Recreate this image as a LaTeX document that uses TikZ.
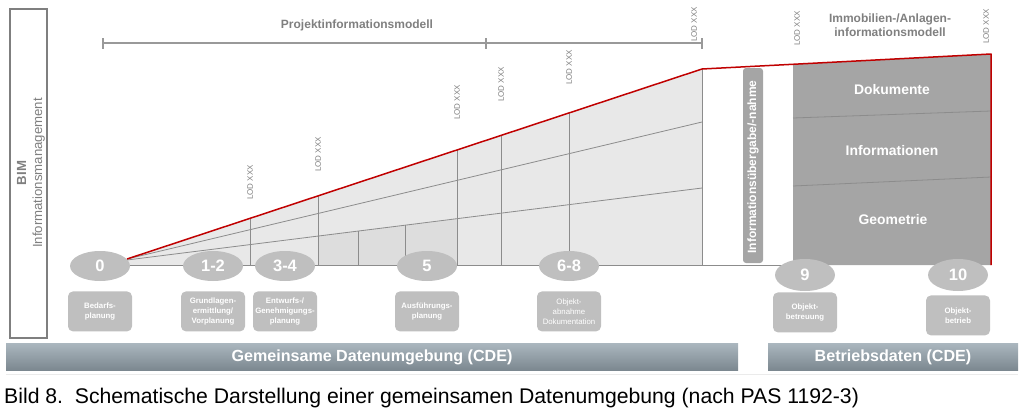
\documentclass[tikz,border=0pt]{standalone}
\usepackage{fontspec}
\setmainfont{Liberation Sans}
\usetikzlibrary{shapes.geometric,positioning}
\definecolor{bimred}{HTML}{C00000}
\definecolor{textgray}{HTML}{7F7F7F}
\definecolor{linegray}{HTML}{8C8C8C}
\definecolor{wedgegray}{HTML}{E8E8E8}
\definecolor{cellgray}{HTML}{DDDDDD}
\definecolor{phasegray}{HTML}{BFBFBF}
\definecolor{blockgray}{HTML}{A5A5A5}
\definecolor{cdetop}{HTML}{AAB6BE}
\definecolor{cdebottom}{HTML}{7B878F}

\tikzset{%
  % Specifications for style of nodes:
        phase/.style = {ellipse, fill=phasegray, minimum width=60pt,
                        minimum height=30pt, inner sep=0pt, text=white,
                        font=\bfseries\fontsize{16.5}{18}\selectfont},
         task/.style = {rectangle, rounded corners=5pt, fill=phasegray,
                        minimum width=64pt, minimum height=40pt, inner sep=1pt,
                        text=white, align=center,
                        font=\bfseries\fontsize{7.8}{10}\selectfont},
          lod/.style = {rotate=90, anchor=west, inner sep=0pt, text=textgray,
                        font=\fontsize{8}{9}\selectfont},
          cde/.style = {rectangle, top color=cdetop, bottom color=cdebottom,
                        minimum height=27pt, text=white,
                        font=\bfseries\fontsize{16.1}{18}\selectfont},
        layer/.style = {text=white, font=\bfseries\fontsize{13.9}{16}\selectfont},
        model/.style = {text=textgray, align=center,
                        font=\bfseries\fontsize{12}{14}\selectfont},
         grid/.style = {draw=linegray, line width=0.8pt},
}

\begin{document}
\begin{tikzpicture}[x=1pt, y=-1pt]
\useasboundingbox (0,0) rectangle (1024,415);

% BIM frame
\draw[textgray, line width=1.2pt] (10,9) rectangle (47,338);
\node (BIM) [rotate=90, text=textgray, align=center,
  font=\fontsize{13.2}{16}\selectfont] at (31,173)
  {\textbf{BIM}\\Informationsmanagement};

% project model bracket
\draw[draw=textgray!80, line width=1.2pt] (103,43) -- (702,43);
\foreach \x in {103,486,702} \draw[draw=textgray!80, line width=1.2pt] (\x,38) -- (\x,49);
\node (PIM) [model] at (357,25) {Projektinformationsmodell};
\node (AIM) [model] at (890,25) {Immobilien-/Anlagen-\\informationsmodell};

% wedge
\coordinate (apex) at (127,259);
\coordinate (top) at (702,69);
\coordinate (foot) at (702,265);
\fill[wedgegray] (apex) -- (top) -- (foot) -- (127,265) -- cycle;
\fill[cellgray] (318,236.1) -- (457,218.7) -- (457,265) -- (318,265) -- cycle;
\begin{scope}
  \clip (apex) -- (top) -- (foot) -- (127,265) -- cycle;
  \foreach \x in {250,318,457,501,569} \draw[grid] (\x,0) -- (\x,265);
\end{scope}
\draw[grid] (358,231.1) -- (358,265);
\draw[grid] (405,225.2) -- (405,265);
\draw[grid] (apex) -- (702,122);
\draw[grid] (127,260) -- (702,188);
\draw[grid] (127,265) -- (foot) -- (top);
\draw[grid] (foot) -- (793,265);

% operation block
\fill[blockgray] (793,64.3) -- (991,54) -- (991,265) -- (793,265) -- cycle;
\draw[draw=black!45, line width=0.8pt] (793,118) -- (991,111);
\draw[draw=black!45, line width=0.8pt] (793,186) -- (991,177);
\draw[bimred, line width=1.5pt, line join=round] (apex) -- (top) -- (991,54) -- (991,265);
\node (DOK) [layer] at (892,90) {Dokumente};
\node (INF) [layer] at (892,151) {Informationen};
\node (GEO) [layer] at (893,220) {Geometrie};

% handover
\fill[blockgray, rounded corners=3pt] (743,68) rectangle (763,263);
\node (UEB) [rotate=90, text=white, font=\bfseries\fontsize{12}{13}\selectfont]
  at (753,167) {Informationsübergabe/-nahme};

% LOD labels
\node (L1) [lod] at (250,200) {LOD XXX};
\node (L2) [lod] at (318,172) {LOD XXX};
\node (L3) [lod] at (457,120) {LOD XXX};
\node (L4) [lod] at (501,102) {LOD XXX};
\node (L5) [lod] at (569,85) {LOD XXX};
\node (L6) [lod] at (694,42) {LOD XXX};
\node (L7) [lod] at (797,46) {LOD XXX};
\node (L8) [lod] at (986,44) {LOD XXX};

% phases
\node (P0)  [phase] at (100,266) {0};
\node (P12) [phase] at (213,266) {1-2};
\node (P34) [phase] at (285,266) {3-4};
\node (P5)  [phase] at (427,266) {5};
\node (P68) [phase] at (569,266) {6-8};
\node (P9)  [phase, minimum height=32pt] at (805,275) {9};
\node (P10) [phase, minimum height=32pt] at (958,275) {10};

\node (T0)  [task, below=10pt of P0]  {Bedarfs-\\planung};
\node (T12) [task, below=10pt of P12] {Grundlagen-\\ermittlung/\\Vorplanung};
\node (T34) [task, below=10pt of P34] {Entwurfs-/\\Genehmigungs-\\planung};
\node (T5)  [task, below=10pt of P5]  {Ausführungs-\\planung};
\node (T68) [task, below=10pt of P68, font=\fontsize{7.8}{10}\selectfont]
  {Objekt-\\abnahme\\Dokumentation};
\node (T9)  [task, below=1pt of P9]   {Objekt-\\betreuung};
\node (T10) [task, below=4pt of P10]  {Objekt-\\betrieb};

% data environments
\node (CDE) [cde, minimum width=732pt] at (372,357) {Gemeinsame Datenumgebung (CDE)};
\node (OPS) [cde, minimum width=250pt] at (893,357) {Betriebsdaten (CDE)};
\draw[black!8, line width=0.8pt] (6,374) -- (1018,374);

% caption
\node (CAP) [anchor=west, inner sep=0pt, font=\fontsize{21.2}{24}\selectfont]
  at (4,398) {Bild 8.\ \ Schematische Darstellung einer gemeinsamen Datenumgebung (nach PAS 1192-3)};
\end{tikzpicture}
\end{document}
